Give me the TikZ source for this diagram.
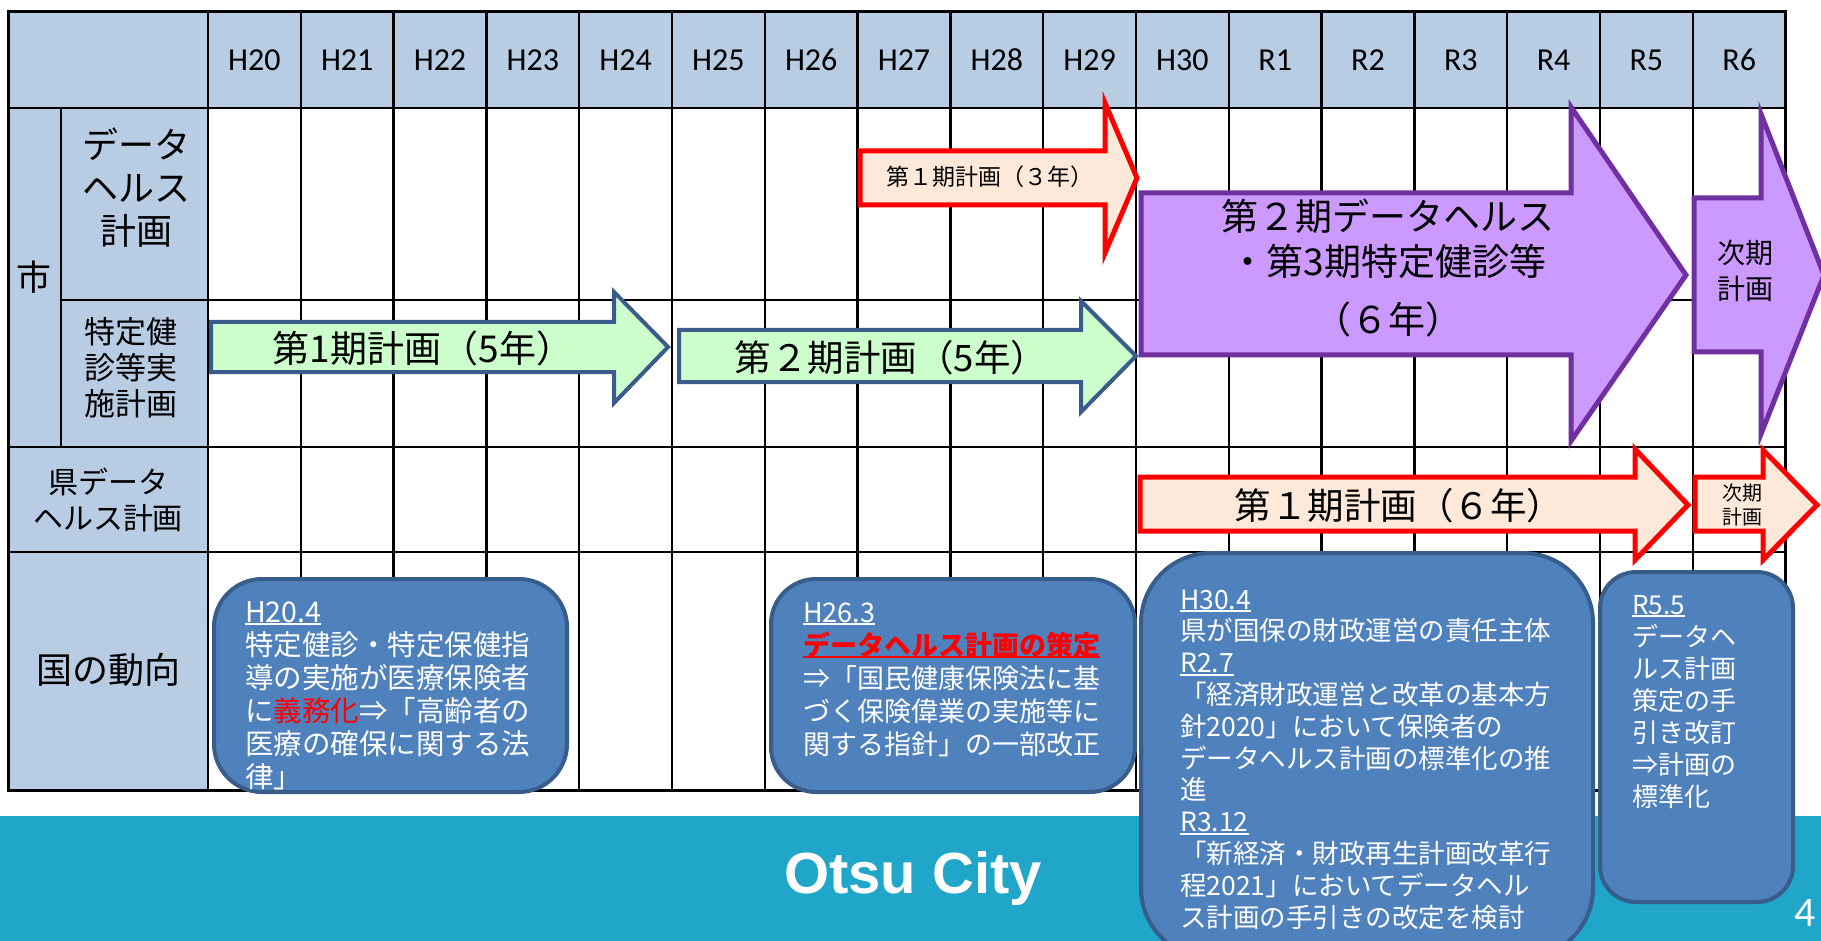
\documentclass[tikz,border=0pt]{standalone}
\usepackage{fontspec}
\setmainfont{Noto Sans CJK JP}
\newfontfamily\latf{Carlito}
\newfontfamily\otsuf{Liberation Sans}
\definecolor{hdr}{HTML}{B8CCE4}
\definecolor{grn}{HTML}{CCFFCC}
\definecolor{gbd}{HTML}{3B5B8C}
\definecolor{peach}{HTML}{FDE9D9}
\definecolor{purp}{HTML}{CC99FF}
\definecolor{purpd}{HTML}{7030A0}
\definecolor{boxb}{HTML}{4F81BD}
\definecolor{boxd}{HTML}{385D8A}
\definecolor{band}{HTML}{1FA6C9}
\newcommand\myul[1]{\setbox0\hbox{#1}\rlap{\rule[-3pt]{\wd0}{1.6pt}}\box0}
\tikzset{
  gridline/.style={line width=2.5pt, black},
  garrow/.style={fill=grn, draw=gbd, line width=4pt, line join=miter},
  rarrow/.style={fill=peach, draw=red, line width=5pt, line join=miter},
  parrow/.style={fill=purp, draw=purpd, line width=5pt, line join=miter},
  bbox/.style={fill=boxb, draw=boxd, line width=4pt},
  lbl/.style={align=center, inner sep=0pt},
  yr/.style={font=\latf\fontsize{32}{38}\selectfont, inner sep=0pt},
  btxt/.style={anchor=base west, align=left, inner sep=0pt, text=white},
}
\begin{document}
\begin{tikzpicture}[x=1pt,y=-1pt]
\useasboundingbox (0,0) rectangle (1821,941);
\clip (0,0) rectangle (1821,941);
\fill[white] (0,0) rectangle (1821,941);
% header and label fills
\fill[hdr] (8,12) rectangle (1785.6,108);
\fill[hdr] (8,108) rectangle (208,790);
% grid
\foreach \i in {1,...,16} \draw[gridline] ({208+92.8*\i},12) -- ({208+92.8*\i},790);
\draw[gridline] (208,12) -- (208,790);
\draw[gridline] (8,108) -- (1785.6,108);
\draw[gridline] (61,300) -- (1785.6,300);
\draw[gridline] (8,447) -- (1785.6,447);
\draw[gridline] (8,552) -- (1785.6,552);
\draw[gridline] (61,108) -- (61,447);
\draw[line width=3pt] (8,12) rectangle (1785.6,790);
% year labels
\foreach \lab [count=\i from 0] in {H20,H21,H22,H23,H24,H25,H26,H27,H28,H29,H30,R1,R2,R3,R4,R5,R6}
  \node[yr] (y\i) at ({208+92.8*(\i+0.5)},60) {\lab};
% row labels
\node[lbl, font=\fontsize{35}{40}\selectfont] (shi) at (34,277) {市};
\node[lbl, font=\fontsize{36}{43}\selectfont] (dh) at (136,188) {データ\\ヘルス\\計画};
\node[lbl, font=\fontsize{31}{36}\selectfont] (tk) at (131,368) {特定健\\診等実\\施計画};
\node[lbl, font=\fontsize{30}{36}\selectfont] (ken) at (108,500) {県データ\\ヘルス計画};
\node[lbl, font=\fontsize{36}{43}\selectfont] (kuni) at (108,670) {国の動向};
% arrows
\draw[garrow] (211,322) -- (614,322) -- (614,292) -- (668,347) -- (614,403) -- (614,372) -- (211,372) -- cycle;
\node[lbl, font=\fontsize{37}{40}\selectfont] (g1) at (423,348) {第1期計画（5年）};
\draw[garrow] (679,330) -- (1081,330) -- (1081,301) -- (1136,356) -- (1081,412) -- (1081,382) -- (679,382) -- cycle;
\node[lbl, font=\fontsize{36.5}{40}\selectfont] (g2) at (891,358) {第２期計画（5年）};
\draw[rarrow] (860,151) -- (1105,151) -- (1105,103) -- (1137,178) -- (1105,253) -- (1105,205) -- (860,205) -- cycle;
\node[lbl, font=\fontsize{23}{26}\selectfont] (r1) at (990,177) {第１期計画（３年）};
\draw[parrow] (1141,193) -- (1571,193) -- (1571,107) -- (1686,275) -- (1571,441) -- (1571,355) -- (1141,355) -- cycle;
\node[lbl, font=\fontsize{37}{45}\selectfont] (p1) at (1388,268) {第２期データヘルス\\・第3期特定健診等\\[13pt]（６年）};
\draw[parrow] (1694,198) -- (1761,198) -- (1761,114) -- (1824,275) -- (1761,434) -- (1761,352) -- (1694,352) -- cycle;
\node[lbl, font=\fontsize{28}{36}\selectfont] (p2) at (1745,271) {次期\\計画};
\draw[rarrow] (1140,477) -- (1635,477) -- (1635,449) -- (1688,505) -- (1635,560) -- (1635,531) -- (1140,531) -- cycle;
\node[lbl, font=\fontsize{36.5}{40}\selectfont] (r2) at (1399,506) {第１期計画（６年）};
\draw[rarrow] (1695,477) -- (1763,477) -- (1763,450) -- (1817,505) -- (1763,560) -- (1763,531) -- (1695,531) -- cycle;
\node[lbl, font=\fontsize{20}{24}\selectfont] (r3) at (1742,505) {次期\\計画};
% band
\fill[band] (0,816) rectangle (1821,941);
\node[font=\otsuf\bfseries\fontsize{58}{60}\selectfont, text=white, anchor=base, inner sep=0pt] (otsu) at (913,893) {Otsu City};
\node[font=\latf\fontsize{42}{42}\selectfont, text=white, anchor=base, inner sep=0pt] (pg) at (1805,926) {4};
% boxes
\draw[bbox, rounded corners=48pt] (214,579) rectangle (567,792);
\draw[bbox, rounded corners=45pt] (771,579) rectangle (1135,792);
\draw[bbox, rounded corners=70pt] (1141,553) rectangle (1593,958);
\draw[bbox, rounded corners=36pt] (1600,572) rectangle (1793,902);
% box texts (anchor = baseline of the last line)
\node[btxt, font=\fontsize{28.5}{33}\selectfont] (b1) at (245,787) {\myul{H20.4}\\特定健診・特定保健指\\導の実施が医療保険者\\に{\color{red}義務化}⇒「高齢者の\\医療の確保に関する法\\律」};
\node[btxt, font=\fontsize{27}{33}\selectfont] (b2) at (803,754) {\myul{H26.3}\\{\color{red}\bfseries\myul{データヘルス計画の策定}}\\⇒「国民健康保険法に基\\づく保険偉業の実施等に\\関する指針」の一部改正};
\node[btxt, font=\fontsize{26.5}{31.8}\selectfont] (b3) at (1180,927) {\myul{H30.4}\\県が国保の財政運営の責任主体\\\myul{R2.7}\\「経済財政運営と改革の基本方\\針2020」において保険者の\\データヘルス計画の標準化の推\\進\\\myul{R3.12}\\「新経済・財政再生計画改革行\\程2021」においてデータヘル\\ス計画の手引きの改定を検討};
\node[btxt, font=\fontsize{26}{32}\selectfont] (b4) at (1632,806) {\myul{R5.5}\\データヘ\\ルス計画\\策定の手\\引き改訂\\⇒計画の\\標準化};
\end{tikzpicture}
\end{document}
